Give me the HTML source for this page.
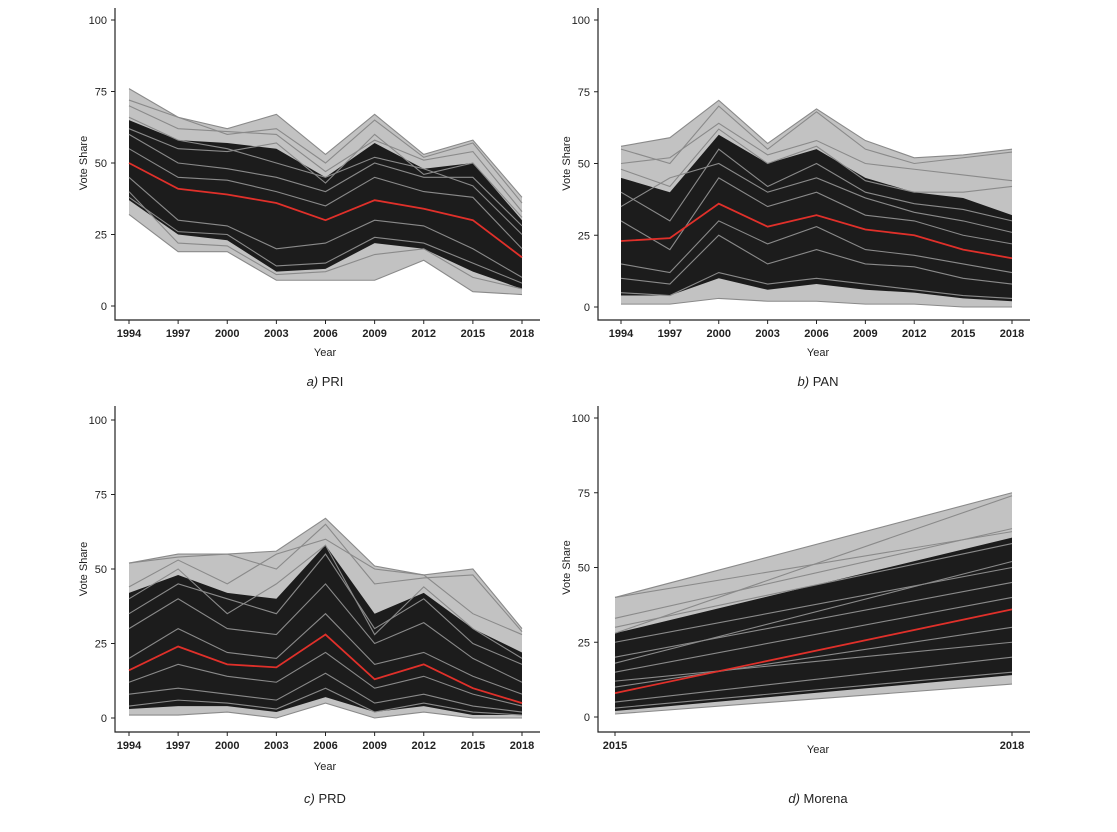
<!DOCTYPE html>
<html><head><meta charset="utf-8">
<style>
body{margin:0;background:#fff;}
svg text{font-family:"Liberation Sans",sans-serif;fill:#222;}
</style></head>
<body>
<svg id="chart" width="1117" height="827" xmlns="http://www.w3.org/2000/svg"></svg>
<script>
// ---- data ----
const yearsMain = [1994,1997,2000,2003,2006,2009,2012,2015,2018];
const yearsMorena = [2015,2018];
const yTicks = [0,25,50,75,100];

const priMean  = [50,41,39,36,30,37,34,30,17];
const priMax   = [76,66,62,67,53,67,53,58,38];
const priMin   = [32,19,19,9,9,9,16,5,4];
const priHigh  = [65,58,57,55,45,57,48,50,30];
const priLow   = [37,25,23,12,13,22,20,12,6];
const priLines = [
 [72,66,60,62,50,65,52,57,36],[70,62,61,60,47,58,51,54,33],[60,50,48,45,40,50,45,45,28],
 [45,30,28,20,22,30,28,20,10],[40,22,21,11,12,18,20,10,6],[55,45,44,40,35,45,40,38,20],
 [66,58,55,50,45,52,48,42,25],[38,26,25,14,15,24,22,15,8],[62,55,54,57,43,60,46,50,31]];

const panMean  = [23,24,36,28,32,27,25,20,17];
const panMax   = [56,59,72,57,69,58,52,53,55];
const panMin   = [1,1,3,2,2,1,1,0,0];
const panHigh  = [45,40,60,50,55,45,40,38,32];
const panLow   = [4,4,10,6,8,6,5,3,2];
const panLines = [
 [55,50,70,55,68,55,50,52,54],[50,52,64,53,58,50,48,46,44],[40,30,55,42,50,40,36,34,30],
 [30,20,45,35,40,32,30,25,22],[10,8,25,15,20,15,14,10,8],[5,4,12,8,10,8,6,4,3],
 [35,45,50,40,45,38,33,30,26],[15,12,30,22,28,20,18,15,12],[48,42,62,50,56,44,40,40,42]];

const prdMean  = [16,24,18,17,28,13,18,10,5];
const prdMax   = [52,55,55,56,67,51,48,50,30];
const prdMin   = [1,1,2,0,5,0,2,0,0];
const prdHigh  = [42,48,42,40,58,35,42,30,22];
const prdLow   = [3,4,4,2,7,2,4,1,1];
const prdLines = [
 [52,54,55,50,65,45,47,48,29],[44,53,45,55,60,50,48,35,28],[30,40,30,28,45,25,32,20,12],
 [20,30,22,20,35,18,22,14,8],[8,10,8,6,15,5,8,4,2],[35,45,40,35,55,30,40,25,18],
 [12,18,14,12,22,10,14,8,4],[40,50,35,45,58,28,44,30,20],[4,6,5,3,10,2,5,2,1]];

const morMean  = [8,36];
const morMax   = [40,75];
const morMin   = [1,11];
const morHigh  = [28,60];
const morLow   = [2,14];
const morLines = [[40,62],[33,63],[30,58],[25,50],[20,45],[15,40],[10,30],[5,20],[3,15],[28,74],[18,52],[12,25]];

// ---- drawing ----
const svg = document.getElementById('chart');
const NS = 'http://www.w3.org/2000/svg';
function mk(tag, attrs, parent){const e=document.createElementNS(NS,tag);for(const k in attrs)e.setAttribute(k,attrs[k]);(parent||svg).appendChild(e);return e;}

function panel(cfg){
  const g = mk('g',{});
  
  
  const years = cfg.years;
  const x = v => cfg.x0 + (v - years[0])/(years[years.length-1]-years[0])*(cfg.x1-cfg.x0);
  const y = v => cfg.yb - v/100*(cfg.yb-cfg.yt);
  const ax = mk('path',{d:`M${cfg.axX},${cfg.top} V${cfg.axY} H${cfg.right}`,stroke:'#222','stroke-width':1.2,fill:'none'},g);
  
  
  yTicks.forEach(t=>{
    mk('line',{x1:cfg.axX-4,x2:cfg.axX,y1:y(t),y2:y(t),stroke:'#222'},g);
    const tx = mk('text',{x:cfg.axX-8,y:y(t)+4,'text-anchor':'end','font-size':11},g);
    tx.textContent=t;
    
    
  });
  years.forEach(v=>{
    mk('line',{x1:x(v),x2:x(v),y1:cfg.axY,y2:cfg.axY+4,stroke:'#222'},g);
    const tx = mk('text',{x:x(v),y:cfg.axY+17,'text-anchor':'middle','font-size':11,'font-weight':'bold'},g);
    tx.textContent=v;
    
    
  });
  const yt = mk('text',{x:0,y:0,'text-anchor':'middle','font-size':11,transform:`translate(${cfg.axX-28},${(cfg.yt+cfg.yb)/2}) rotate(-90)`},g);
  yt.textContent='Vote Share';
  
  
  const xt = mk('text',{x:cfg.yearX,y:cfg.yearY,'text-anchor':'middle','font-size':11},g);
  xt.textContent='Year';
  
  
  const cap = mk('text',{x:cfg.capX,y:cfg.capY,'text-anchor':'middle','font-size':13},g);
  cap.innerHTML = `<tspan font-style="italic">${cfg.letter}</tspan>  ${cfg.party}`;
  
  
  const pts = (a)=>a.map((v,i)=>`${x(years[i])},${y(v)}`);
  const outer = mk('polygon',{points:pts(cfg.max).concat(pts(cfg.min).reverse()).join(' '),fill:'#777','fill-opacity':0.45},g);
  
  
  const band = mk('polygon',{points:pts(cfg.high).concat(pts(cfg.low).reverse()).join(' '),fill:'#1c1c1c'},g);
  
  
  [cfg.max,cfg.min].concat(cfg.lines).forEach(l=>{
    const p = mk('polyline',{points:pts(l).join(' '),fill:'none',stroke:'#8a8a8a','stroke-width':1.1},g);
    
    
  });
  const m = mk('polyline',{points:pts(cfg.mean).join(' '),fill:'none',stroke:'#e0302a','stroke-width':1.8},g);
  
  
}

panel({name:'panel-pri',years:yearsMain,x0:129,x1:522,yt:20,yb:306,axX:115,axY:320,top:8,right:540,
  yearX:325,yearY:356,capX:325,capY:386,letter:'a)',party:'PRI',
  mean:priMean,max:priMax,min:priMin,high:priHigh,low:priLow,lines:priLines});
panel({name:'panel-pan',years:yearsMain,x0:621,x1:1012,yt:20,yb:307,axX:598,axY:320,top:8,right:1030,
  yearX:818,yearY:356,capX:818,capY:386,letter:'b)',party:'PAN',
  mean:panMean,max:panMax,min:panMin,high:panHigh,low:panLow,lines:panLines});
panel({name:'panel-prd',years:yearsMain,x0:129,x1:522,yt:420,yb:718,axX:115,axY:732,top:406,right:540,
  yearX:325,yearY:770,capX:325,capY:803,letter:'c)',party:'PRD',
  mean:prdMean,max:prdMax,min:prdMin,high:prdHigh,low:prdLow,lines:prdLines});
panel({name:'panel-morena',years:yearsMorena,x0:615,x1:1012,yt:418,yb:717,axX:598,axY:732,top:406,right:1030,
  yearX:818,yearY:753,capX:818,capY:803,letter:'d)',party:'Morena',
  mean:morMean,max:morMax,min:morMin,high:morHigh,low:morLow,lines:morLines});
</script>
</body></html>
